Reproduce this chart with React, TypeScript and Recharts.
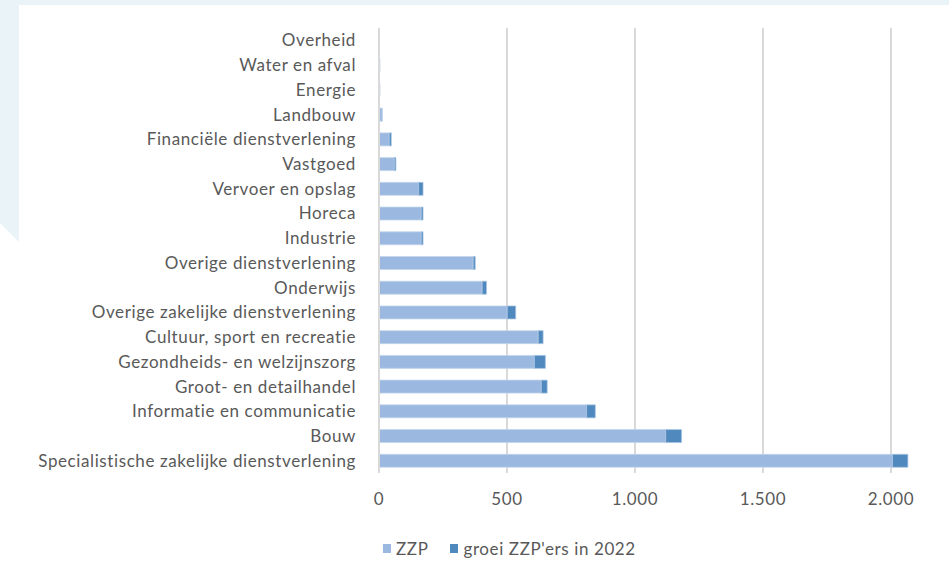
import React from 'react';
import { BarChart, Bar, XAxis, YAxis, CartesianGrid, Legend } from 'recharts';

const sectors = [
  'Overheid',
  'Water en afval',
  'Energie',
  'Landbouw',
  'Financiële dienstverlening',
  'Vastgoed',
  'Vervoer en opslag',
  'Horeca',
  'Industrie',
  'Overige dienstverlening',
  'Onderwijs',
  'Overige zakelijke dienstverlening',
  'Cultuur, sport en recreatie',
  'Gezondheids- en welzijnszorg',
  'Groot- en detailhandel',
  'Informatie en communicatie',
  'Bouw',
  'Specialistische zakelijke dienstverlening',
];

const zzp = [0, 4, 4, 11, 40, 60, 155, 165, 165, 368, 403, 501, 622, 607, 634, 811, 1120, 2006];
const groei = [0, 0, 0, 1, 8, 6, 17, 7, 7, 8, 17, 33, 19, 43, 23, 34, 62, 60];

const xTicks = [0, 500, 1000, 1500, 2000];

const ZZP_COLOR = '#9bb9e0';
const GROEI_COLOR = '#4f89bd';
const TEXT = '#595959';
const FONT = 'Lato, "Open Sans", sans-serif';

const data = sectors.map((name, i) => ({ name, zzp: zzp[i], groei: groei[i] }));

const fmt = (v: number) => v.toLocaleString('nl-NL');

const LegendContent = () => (
  <div style={{ display: 'flex', alignItems: 'center', fontFamily: FONT, fontSize: 17, letterSpacing: 0.6, color: TEXT }}>
    <span style={{ width: 8, height: 9, background: ZZP_COLOR, display: 'inline-block', marginRight: 5 }} />
    <span style={{ marginRight: 22 }}>ZZP</span>
    <span style={{ width: 8, height: 9, background: GROEI_COLOR, display: 'inline-block', marginRight: 5 }} />
    <span>groei ZZP'ers in 2022</span>
  </div>
);

export default function App() {
  return (
    <div style={{ position: 'fixed', left: 0, top: 0, width: 949, height: 563, overflow: 'hidden', background: '#fff' }}>
      <svg width={949} height={563} style={{ position: 'absolute', left: 0, top: 0 }}>
        <polygon points="0,0 949,0 949,5 19,5 19,242 0,223" fill="#eaf3f8" />
      </svg>
      <div style={{ position: 'absolute', left: 0, top: 0 }}>
        <BarChart
          width={1100}
          height={563}
          data={data}
          layout="vertical"
          barSize={13}
          margin={{ top: 28, right: 81, left: 0, bottom: 40 }}
        >
          <CartesianGrid horizontal={false} stroke="#d9d9d9" strokeWidth={2} />
          <XAxis
            type="number"
            domain={[0, 2500]}
            ticks={xTicks}
            tickFormatter={fmt}
            axisLine={false}
            tickLine={false}
            height={30}
            tickMargin={14}
            tick={{ fill: TEXT, fontSize: 17, fontFamily: FONT, letterSpacing: 0.6 }}
          />
          <YAxis
            type="category"
            dataKey="name"
            width={379}
            axisLine={{ stroke: '#d9d9d9', strokeWidth: 2 }}
            tickLine={false}
            tickMargin={17}
            interval={0}
            tick={{ fill: TEXT, fontSize: 17, fontFamily: FONT, letterSpacing: 0.6 }}
          />
          <Legend
            verticalAlign="bottom"
            height={20}
            content={LegendContent}
            wrapperStyle={{ left: 383, top: 538, width: 300 }}
          />
          <Bar dataKey="zzp" name="ZZP" stackId="a" fill={ZZP_COLOR} stroke="#c3d5ec" strokeWidth={0.75} isAnimationActive={false} />
          <Bar dataKey="groei" name="groei ZZP'ers in 2022" stackId="a" fill={GROEI_COLOR} stroke="#a9c4e3" strokeWidth={0.75} isAnimationActive={false} />
        </BarChart>
      </div>
    </div>
  );
}
